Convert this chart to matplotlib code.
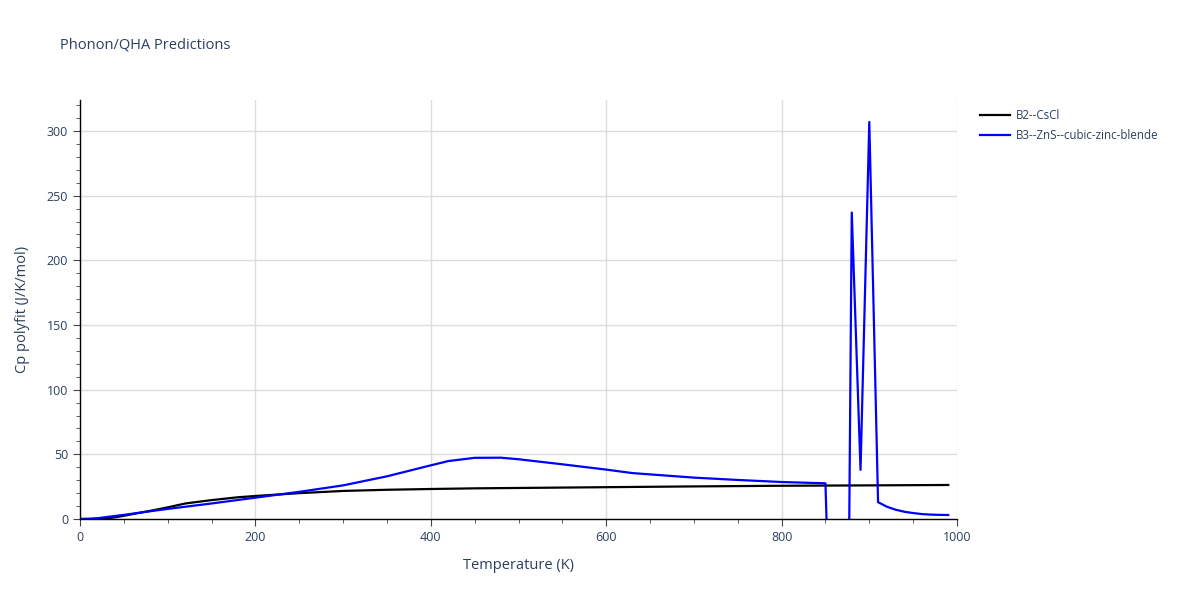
import matplotlib
matplotlib.use("Agg")
import matplotlib.pyplot as plt
from matplotlib.ticker import MultipleLocator

# B2--CsCl
t_cscl = [0, 10, 20, 30, 40, 50, 60, 80, 100, 120, 150, 180, 200, 250, 300, 350,
          400, 450, 500, 600, 700, 800, 900, 990]
cp_cscl = [0, 0, 0.1, 0.5, 1.3, 2.5, 3.8, 6.3, 9.0, 12.0, 14.6, 16.8, 17.8, 20.0,
           21.7, 22.6, 23.2, 23.7, 24.0, 24.6, 25.2, 25.7, 26.0, 26.3]

# B3--ZnS--cubic-zinc-blende
t_zns = [0, 10, 20, 30, 50, 80, 100, 150, 200, 250, 300, 350, 400, 420, 450, 480,
         500, 550, 600, 630, 700, 750, 800, 850, 860, 870, 880, 890, 900, 910,
         920, 930, 940, 950, 960, 970, 980, 990]
cp_zns = [0, 0.2, 0.6, 1.5, 3.2, 6.0, 7.8, 12.0, 16.5, 21.0, 26.0, 33.0, 41.5,
          44.8, 47.3, 47.4, 46.2, 42.3, 38.2, 35.5, 32.0, 30.2, 28.6, 27.6,
          -200, -600, 237, 38, 307, 13, 9.5, 7.2, 5.6, 4.6, 3.8, 3.4, 3.2, 3.1]

TXT = "#2a3f5f"
plt.rcParams["font.family"] = ["Open Sans", "DejaVu Sans"]

fig = plt.figure(figsize=(12, 6), dpi=100)
ax = fig.add_axes([80 / 1200, 1 - 519 / 600, (957 - 80) / 1200, (519 - 100) / 600])

ax.plot(t_cscl, cp_cscl, color="black", lw=1.6, label="B2--CsCl")
ax.plot(t_zns, cp_zns, color="blue", lw=1.6, label="B3--ZnS--cubic-zinc-blende")

ax.set_xlim(0, 1000)
ax.set_ylim(0, 324)
ax.xaxis.set_major_locator(MultipleLocator(200))
ax.xaxis.set_minor_locator(MultipleLocator(50))
ax.yaxis.set_major_locator(MultipleLocator(50))
ax.yaxis.set_minor_locator(MultipleLocator(10))
ax.grid(True, which="major", color="#dddddd", lw=1)
ax.set_axisbelow(True)

for s in ["top", "right"]:
    ax.spines[s].set_visible(False)
for s in ["left", "bottom"]:
    ax.spines[s].set_color("black")
    ax.spines[s].set_linewidth(1)

ax.tick_params(which="major", length=5, color="#444444", labelcolor=TXT, labelsize=9)
ax.tick_params(which="minor", length=3, color="#444444")

ax.set_xlabel("Temperature (K)", color=TXT, fontsize=10.5, labelpad=10)
ax.set_ylabel("Cp polyfit (J/K/mol)", color=TXT, fontsize=10.5, labelpad=12)

fig.text(60 / 1200, 1 - 45 / 600, "Phonon/QHA Predictions", color=TXT,
         fontsize=10.5, va="center", ha="left")

leg = ax.legend(loc="upper left", bbox_to_anchor=(970 / 1200, 1 - 99 / 600),
                bbox_transform=fig.transFigure, frameon=False, fontsize=8.3,
                handlelength=2.6, handletextpad=0.5, labelspacing=0.55)
for t in leg.get_texts():
    t.set_color(TXT)

fig.savefig("out.png", dpi=100)
